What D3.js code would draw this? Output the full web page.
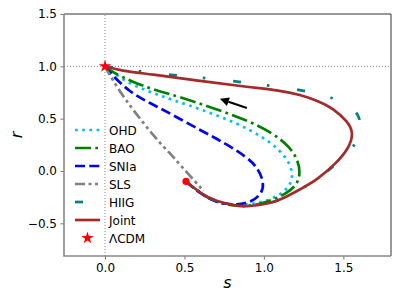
<!DOCTYPE html>
<html>
<head>
<meta charset="utf-8">
<script src="https://cdn.jsdelivr.net/npm/d3@7"></script>
<style>
body{margin:0;background:#fff}
text{font-family:"DejaVu Sans",sans-serif}
</style>
</head>
<body>
<svg id="chart" width="403" height="302"></svg>
<script>
// axis ticks
var xTicks = [0, 0.5, 1, 1.5];
var yTicks = [-0.5, 0, 0.5, 1, 1.5];

// trajectories in the (s, r) plane, from the LCDM point back to the start point
var ohd = [[0,1],[0.06,0.925],[0.176,0.82],[0.30,0.745],[0.428,0.678],[0.616,0.583],[0.83,0.458],[0.994,0.325],
  [1.10,0.2],[1.164,0.076],[1.185,-0.057],[1.155,-0.162],[1.082,-0.248],[0.975,-0.306],[0.85,-0.33],[0.72,-0.31],
  [0.62,-0.24],[0.51,-0.10]];
var bao = [[0,1],[0.05,0.94],[0.176,0.85],[0.30,0.78],[0.472,0.707],[0.679,0.602],[0.893,0.487],[1.057,0.363],
  [1.164,0.229],[1.214,0.105],[1.23,-0.019],[1.208,-0.134],[1.145,-0.21],[1.057,-0.277],[0.956,-0.325],[0.85,-0.34],
  [0.72,-0.31],[0.62,-0.24],[0.51,-0.10]];
var snia = [[0,1],[0.031,0.937],[0.157,0.75],[0.283,0.65],[0.428,0.535],[0.597,0.392],[0.742,0.277],[0.893,0.134],
  [0.962,0.029],[1.0,-0.105],[0.99,-0.21],[0.925,-0.296],[0.83,-0.325],[0.72,-0.31],[0.62,-0.24],[0.51,-0.10]];
var sls = [[0,1],[0.019,0.946],[0.08,0.79],[0.176,0.583],[0.327,0.296],[0.409,0.17],[0.472,0.06],[0.579,-0.12],[0.62,-0.19]];
var hiig = [[0,1],[0.22,0.952],[0.41,0.918],[0.616,0.89],[0.805,0.86],[1.006,0.821],[1.208,0.783],[1.396,0.716],
  [1.50,0.66],[1.585,0.573],[1.615,0.45],[1.60,0.325],[1.55,0.2],[1.478,0.096],[1.40,0.0],[1.33,-0.09],[1.245,-0.16],
  [1.12,-0.265],[1.038,-0.31],[0.9,-0.34],[0.83,-0.335],[0.70,-0.29],[0.616,-0.229],[0.51,-0.10]];
var joint = [[0,1],[0.1,0.958],[0.283,0.926],[0.597,0.86],[0.912,0.80],[1.10,0.77],[1.226,0.73],[1.35,0.665],
  [1.434,0.60],[1.53,0.47],[1.565,0.36],[1.535,0.22],[1.46,0.08],[1.33,-0.09],[1.245,-0.16],[1.12,-0.265],
  [1.038,-0.31],[0.9,-0.34],[0.83,-0.335],[0.70,-0.29],[0.616,-0.229],[0.51,-0.10]];
var lcdm = [0, 1];
var startPt = [0.51, -0.10];
var arrowTail = [0.893, 0.602];
var arrowHead = [0.723, 0.69];

var names = ["OHD", "BAO", "SNIa", "SLS", "HIIG", "Joint"];
var curves = [ohd, bao, snia, sls, hiig, joint];
var colors = ["#00bfff", "#008000", "#0000ff", "#808080", "#008080", "#a52a2a"];
var dashes = ["2.7,4.5", "16,4.3,2.7,4.3", "10,4.3", "10,3.5,3,3.5,3,3.5", "8,26,2.5,28", null];

var svg = d3.select("#chart");
var x = d3.scaleLinear().domain([-0.258, 1.8]).range([64, 391]);
var y = d3.scaleLinear().domain([-0.812, 1.5]).range([256, 14]);

// reference lines
svg.append("line").attr("x1", x.range()[0]).attr("x2", x.range()[1])
  .attr("y1", y(1)).attr("y2", y(1))
  .attr("stroke", "#888").attr("stroke-width", 1).attr("stroke-dasharray", "1,2");
svg.append("line").attr("x1", x(0)).attr("x2", x(0))
  .attr("y1", y.range()[0]).attr("y2", y.range()[1])
  .attr("stroke", "#888").attr("stroke-width", 1).attr("stroke-dasharray", "1,2");

var line = d3.line()
  .x(function(d){ return x(d[0]); })
  .y(function(d){ return y(d[1]); })
  .curve(d3.curveBasis);

curves.forEach(function(c, i){
  svg.append("path").attr("d", line(c))
    .attr("fill", "none")
    .attr("stroke", colors[i])
    .attr("stroke-width", 2.7)
    .attr("stroke-dasharray", dashes[i]);
});

// arrow
var ax1 = x(arrowTail[0]), ay1 = y(arrowTail[1]);
var ax2 = x(arrowHead[0]), ay2 = y(arrowHead[1]);
var ang = Math.atan2(ay2 - ay1, ax2 - ax1);
var hl = 9, hw = 4.5;
var bx = ax2 - hl * Math.cos(ang), by = ay2 - hl * Math.sin(ang);
svg.append("line").attr("x1", ax1).attr("y1", ay1).attr("x2", bx).attr("y2", by)
  .attr("stroke", "#000").attr("stroke-width", 2);
svg.append("path")
  .attr("d", "M" + ax2 + "," + ay2 +
    "L" + (bx + hw * Math.sin(ang)) + "," + (by - hw * Math.cos(ang)) +
    "L" + (bx - hw * Math.sin(ang)) + "," + (by + hw * Math.cos(ang)) + "Z")
  .attr("fill", "#000");

// markers
svg.append("circle").attr("cx", x(startPt[0])).attr("cy", y(startPt[1])).attr("r", 3.6).attr("fill", "#ff0000");
var star = d3.symbol().type(d3.symbolStar).size(48);
svg.append("path").attr("d", star())
  .attr("transform", "translate(" + x(lcdm[0]) + "," + y(lcdm[1]) + ")")
  .attr("fill", "#ff0000");

// axes
var gx = svg.append("g").attr("transform", "translate(0,256)")
  .call(d3.axisBottom(x).tickValues(xTicks).tickSize(3.5).tickPadding(3.5).tickFormat(d3.format(".1f")));
var gy = svg.append("g").attr("transform", "translate(64,0)")
  .call(d3.axisLeft(y).tickValues(yTicks).tickSize(3.5).tickPadding(3.5).tickFormat(d3.format(".1f")));
[gx, gy].forEach(function(g){
  g.select(".domain").remove();
  g.selectAll("text").attr("font-size", 12).attr("fill", "#000").attr("font-family", "DejaVu Sans");
  g.selectAll("line").attr("stroke", "#777");
});

// frame: left/bottom lighter like the reference
svg.append("path").attr("d", "M64,14H391V256").attr("fill", "none").attr("stroke", "#333").attr("stroke-width", 1);
svg.append("path").attr("d", "M64,14V256H391").attr("fill", "none").attr("stroke", "#888").attr("stroke-width", 1.6);

svg.append("text").attr("x", 227.5).attr("y", 288).attr("text-anchor", "middle")
  .attr("font-size", 16).attr("font-style", "italic").text("s");
svg.append("text").attr("transform", "translate(22,135) rotate(-90)").attr("text-anchor", "middle")
  .attr("font-size", 16).attr("font-style", "italic").text("r");

// legend
var lg = svg.append("g");
names.forEach(function(n, i){
  var ly = 130 + i * 18;
  lg.append("line").attr("x1", 75).attr("x2", 100).attr("y1", ly).attr("y2", ly)
    .attr("stroke", colors[i]).attr("stroke-width", 2.7).attr("stroke-dasharray", dashes[i]);
  lg.append("text").attr("x", 109).attr("y", ly + 4.5).attr("font-size", 12).text(n);
});
lg.append("path").attr("d", star()).attr("transform", "translate(87.5,238)").attr("fill", "#ff0000");
lg.append("text").attr("x", 109).attr("y", 238 + 4.5).attr("font-size", 12).text("ΛCDM");
</script>
</body>
</html>
